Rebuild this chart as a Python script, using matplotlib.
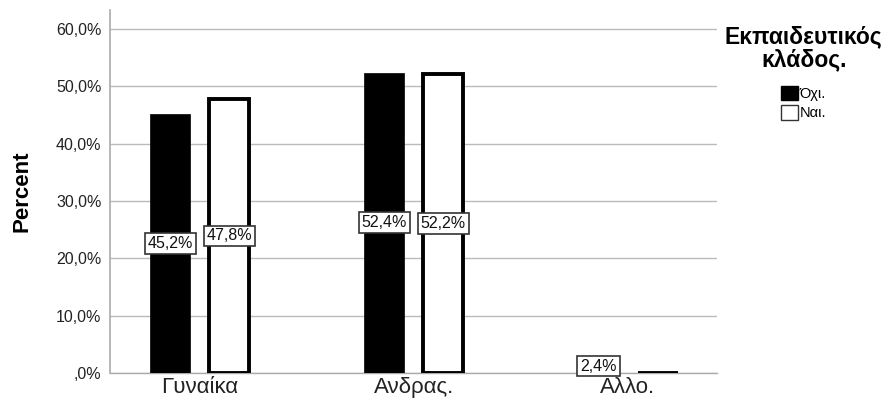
import matplotlib.pyplot as plt
import numpy as np
from matplotlib.patches import Patch

plt.rcParams["font.family"] = ["Liberation Sans", "DejaVu Sans"]

# --- Data ---
categories = ["Γυναίκα", "Ανδρας.", "Αλλο."]
series_names = ["Όχι.", "Ναι."]
no_values = [45.2, 52.4, 2.4]
yes_values = [47.8, 52.2, 0.0]
y_ticks = [0, 10, 20, 30, 40, 50, 60]

def pct_label(v):
    s = f"{v:.1f}%".replace(".", ",")
    return s if v != 0 else ",0%"

# --- Plot ---
fig = plt.figure(figsize=(8.93, 4.08), dpi=100)
ax = fig.add_axes([0.123, 0.086, 0.68, 0.889])

x = np.arange(len(categories))
width = 0.187
off = 0.138

ax.bar(x - off, no_values, width, color="black", edgecolor="black", linewidth=0.5, zorder=3)
ax.bar(x + off, yes_values, width, color="white", edgecolor="black", linewidth=2.8, zorder=3)

# value labels in boxes at mid-height
for xs, vals in [(x - off, no_values), (x + off, yes_values)]:
    for xi, v in zip(xs, vals):
        if v <= 0:
            continue
        ax.text(xi, v / 2, pct_label(v), ha="center", va="center", fontsize=11.5,
                color="#111111", zorder=5,
                bbox=dict(boxstyle="square,pad=0.18", fc="white", ec="#333333", lw=1.2))

ax.set_xlim(-0.42, 2.416)
ax.set_ylim(0, 63.3)
ax.set_yticks(y_ticks)
ax.set_yticklabels([pct_label(t) for t in y_ticks], fontsize=11.5, color="#222222")
ax.set_xticks(x)
ax.set_xticklabels(categories, fontsize=16, color="#222222")
ax.tick_params(axis="y", length=0, pad=6)
ax.tick_params(axis="x", length=0, pad=3)
ax.set_ylabel("Percent", fontsize=16, fontweight="bold")
ax.yaxis.set_label_coords(-0.127, 0.5)

ax.grid(axis="y", color="#bbbbbb", linewidth=1.0, zorder=0)
for side in ["top", "right"]:
    ax.spines[side].set_visible(False)
ax.spines["left"].set_color("#aaaaaa")
ax.spines["left"].set_linewidth(1.2)
ax.spines["bottom"].set_color("#aaaaaa")
ax.spines["bottom"].set_linewidth(1.0)

# Legend
handles = [Patch(facecolor="black", edgecolor="black", label=series_names[0]),
           Patch(facecolor="white", edgecolor="#333333", label=series_names[1])]
leg = fig.legend(handles=handles, loc="upper center", bbox_to_anchor=(0.9, 0.955),
                 frameon=False, fontsize=10.5, title="Εκπαιδευτικός\nκλάδος.",
                 handlelength=1.2, handleheight=1.2, handletextpad=0.1,
                 labelspacing=0.25, alignment="center", borderpad=0.0)
leg.get_title().set_fontweight("bold")
leg.get_title().set_fontsize(16.5)
leg.get_title().set_multialignment("center")
leg.get_title().set_linespacing(1.0)
leg._legend_box.sep = 10  # gap between title and entries

plt.savefig("out.png", dpi=100)
